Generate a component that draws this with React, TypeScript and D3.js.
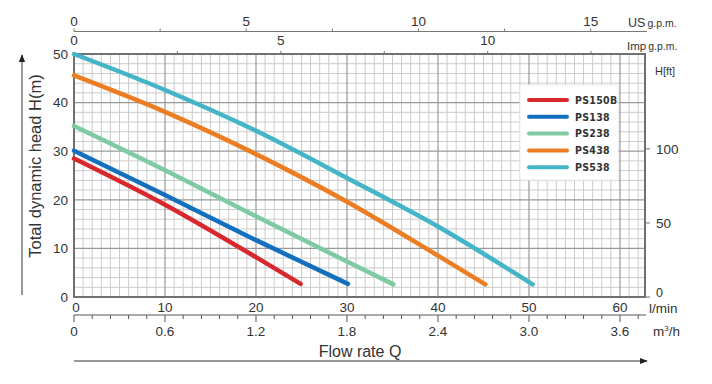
import * as d3 from 'd3';

// pump curves, flow in l/min, head in m
const models = ['PS150B', 'PS138', 'PS238', 'PS438', 'PS538'];
const colors = ['#d8282d', '#1470bf', '#7fcaa1', '#ec7d23', '#44b5c6'];
const flowPS150B = [0, 10, 20, 24.9];
const headPS150B = [28.5, 19.0, 8.2, 2.7];
const flowPS138 = [0, 10, 20, 30.1];
const headPS138 = [30.1, 21.0, 11.7, 2.7];
const flowPS238 = [0, 10, 20, 30, 35.1];
const headPS238 = [35.2, 26.1, 16.6, 7.3, 2.6];
const flowPS438 = [0, 10, 20, 30, 40, 45.2];
const headPS438 = [45.6, 38.1, 29.4, 19.6, 8.5, 2.6];
const flowPS538 = [0, 10, 20, 30, 40, 50.4];
const headPS538 = [50, 42.6, 34.2, 24.5, 14.5, 2.6];

const lpmTicks = [0, 10, 20, 30, 40, 50, 60];
const headTicks = [0, 10, 20, 30, 40, 50];
const ftTicks = [0, 50, 100];
const usTicks = [0, 5, 10, 15];
const impTicks = [0, 5, 10];
const m3hLabels = ['0', '0.6', '1.2', '1.8', '2.4', '3.0', '3.6'];

const W = 712;
const H = 384;
const L = 74, R = 645, T = 54, B = 297;
const QMAX = 62.75;
const font = "'Liberation Sans', Arial, sans-serif";

export default function App() {
  const x = d3.scaleLinear().domain([0, QMAX]).range([L, R]);
  const y = d3.scaleLinear().domain([0, 50]).range([B, T]);
  const yFt = d3.scaleLinear().domain([0, 50 / 0.3048]).range([B, T]);
  const xUS = d3.scaleLinear().domain([0, QMAX / 3.78541]).range([L, R]);
  const xImp = d3.scaleLinear().domain([0, QMAX / 4.54609]).range([L, R]);
  const xM3 = d3.scaleLinear().domain([0, (QMAX * 60) / 1000]).range([L, R]);

  const series = [
    [flowPS150B, headPS150B],
    [flowPS138, headPS138],
    [flowPS238, headPS238],
    [flowPS438, headPS438],
    [flowPS538, headPS538],
  ];
  const line = d3
    .line<[number, number]>()
    .x((d) => x(d[0]))
    .y((d) => y(d[1]))
    .curve(d3.curveMonotoneX);

  const vLines = d3.range(0, 63, 1);
  const hLines = d3.range(0, 51, 2);
  const m3Ticks = d3.range(0, 3.77, 0.12);

  return (
    <svg
      width={W}
      height={H}
      style={{ position: 'absolute', left: 0, top: 0, background: '#fff' }}
      fontFamily={font}
    >
      <defs>
        <marker id="arr" viewBox="0 0 10 10" refX="9" refY="5" markerWidth="8" markerHeight="8" orient="auto">
          <path d="M0,1 L10,5 L0,9 Z" fill="#222" />
        </marker>
      </defs>

      {/* grid */}
      {vLines.filter((v) => v % 10 !== 0).map((v) => (
        <line key={'vm' + v} x1={x(v)} x2={x(v)} y1={T} y2={B} stroke="#cbcbcb" strokeWidth={1} />
      ))}
      {hLines.filter((v) => v % 10 !== 0).map((v) => (
        <line key={'hm' + v} x1={L} x2={R} y1={y(v)} y2={y(v)} stroke="#cbcbcb" strokeWidth={1} />
      ))}
      {vLines.filter((v) => v % 10 === 0 && v > 0).map((v) => (
        <line key={'vM' + v} x1={x(v)} x2={x(v)} y1={T} y2={B} stroke="#999" strokeWidth={1.2} />
      ))}
      {hLines.filter((v) => v % 10 === 0 && v > 0 && v < 50).map((v) => (
        <line key={'hM' + v} x1={L} x2={R} y1={y(v)} y2={y(v)} stroke="#999" strokeWidth={1.2} />
      ))}
      <rect x={L} y={T} width={R - L} height={B - T} fill="none" stroke="#707070" strokeWidth={2} />

      {/* curves */}
      {series.map(([q, h], i) => (
        <path
          key={models[i]}
          d={line(q.map((v, j) => [v, h[j]] as [number, number])) || ''}
          fill="none"
          stroke={colors[i]}
          strokeWidth={4.5}
          strokeLinecap="round"
        />
      ))}

      {/* legend */}
      <rect x={520} y={85} width={98} height={95} fill="#fff" stroke="#eeeeee" />
      {models.map((m, i) => (
        <g key={'lg' + m} transform={`translate(0,${100 + i * 16.8})`}>
          <line x1={529} x2={567} y1={0} y2={0} stroke={colors[i]} strokeWidth={4} strokeLinecap="round" />
          <text
            x={575}
            y={0}
            dy="0.36em"
            fontSize={10.5}
            fontWeight="bold"
            fontFamily="'DejaVu Sans Condensed', 'Liberation Sans Narrow', sans-serif"
            fill="#333"
            letterSpacing={0.3}
          >
            {m}
          </text>
        </g>
      ))}

      {/* left axis labels */}
      {headTicks.map((v) => (
        <text key={'yl' + v} x={68} y={y(v)} dy="0.36em" textAnchor="end" fontSize={13.5} fill="#333">
          {v}
        </text>
      ))}

      {/* right ft axis */}
      {ftTicks.map((v) => (
        <g key={'ft' + v}>
          <line x1={R} x2={R + 5} y1={yFt(v)} y2={yFt(v)} stroke="#707070" />
          <text x={656} y={yFt(v) - (v === 0 ? 5 : 0)} dy="0.36em" fontSize={v === 0 ? 12.5 : 13.5} fill="#333">
            {v}
          </text>
        </g>
      ))}
      <text x={655} y={71} dy="0.36em" fontSize={11} fill="#333">H[ft]</text>

      {/* bottom l/min labels */}
      {lpmTicks.map((v) => (
        <text key={'xl' + v} x={x(v) + (v === 0 ? 2 : 0)} y={307} dy="0.36em" textAnchor="middle" fontSize={13.5} fill="#333">
          {v}
        </text>
      ))}
      <text x={649} y={308} dy="0.36em" fontSize={13.5} fill="#333">l/min</text>

      {/* m3/h axis */}
      <line x1={L} x2={646} y1={315} y2={315} stroke="#555" strokeWidth={1} />
      {m3Ticks.map((v, i) => (
        <line key={'m3t' + i} x1={xM3(v)} x2={xM3(v)} y1={315} y2={i % 5 === 0 ? 322 : 319} stroke="#555" strokeWidth={1} />
      ))}
      {m3hLabels.map((s, i) => (
        <text key={'m3l' + s} x={xM3(i * 0.6)} y={331} dy="0.36em" textAnchor="middle" fontSize={13.5} fill="#333">
          {s}
        </text>
      ))}
      <text x={653} y={336} fontSize={13.5} fill="#333">
        m<tspan fontSize={8} dy={-5}>3</tspan>
        <tspan dy={5}>/h</tspan>
      </text>

      {/* US gpm axis */}
      <line x1={L} x2={647} y1={31.5} y2={31.5} stroke="#777" strokeWidth={1} />
      {d3.range(0, 16.5, 2.5).map((v) => (
        <line key={'ust' + v} x1={xUS(v)} x2={xUS(v)} y1={31.5} y2={28.5} stroke="#777" strokeWidth={1} />
      ))}
      {usTicks.map((v) => (
        <text key={'us' + v} x={xUS(v)} y={21} dy="0.36em" textAnchor="middle" fontSize={13.5} fill="#333">
          {v}
        </text>
      ))}
      <text x={628} y={22} dy="0.36em" fontSize={12.5} fill="#333">
        US<tspan fontSize={10.5} dx={2}>g.p.m.</tspan>
      </text>

      {/* Imp gpm axis */}
      {d3.range(2.5, 13.5, 2.5).map((v) => (
        <line key={'impt' + v} x1={xImp(v)} x2={xImp(v)} y1={T} y2={T - 3} stroke="#777" strokeWidth={1} />
      ))}
      {impTicks.map((v) => (
        <text key={'imp' + v} x={xImp(v)} y={40} dy="0.36em" textAnchor="middle" fontSize={13.5} fill="#333">
          {v}
        </text>
      ))}
      <text x={627} y={46} dy="0.36em" fontSize={11.5} fill="#333">
        Imp<tspan fontSize={10.5} dx={2}>g.p.m.</tspan>
      </text>

      {/* axis titles with arrows */}
      <line x1={22} x2={22} y1={295} y2={55} stroke="#333" strokeWidth={1} markerEnd="url(#arr)" />
      <text
        transform="translate(35,166) rotate(-90)"
        textAnchor="middle"
        dy="0.36em"
        fontSize={16.5}
        fill="#333"
      >
        Total dynamic head H(m)
      </text>
      <line x1={L} x2={647} y1={361} y2={361} stroke="#333" strokeWidth={1} markerEnd="url(#arr)" />
      <text x={360} y={351} dy="0.36em" textAnchor="middle" fontSize={16} fill="#333">
        Flow rate Q
      </text>
    </svg>
  );
}
